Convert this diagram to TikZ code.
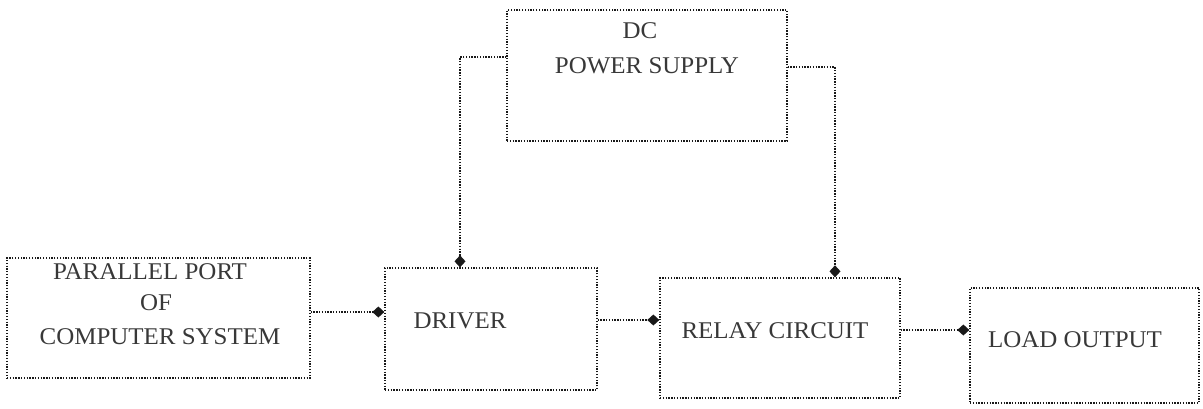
\documentclass[tikz,border=0pt]{standalone}
\usepackage{fontspec}
\setmainfont{Liberation Serif}[FakeStretch=1.04]
\usetikzlibrary{arrows.meta}
\begin{document}
\begin{tikzpicture}[x=1pt,y=-1pt,
  dotline/.style={draw=black!90,line width=1.3pt,dash pattern=on 1.3pt off 1.5pt},
  blockbox/.style={dotline,rectangle,inner sep=0pt},
  lbl/.style={inner sep=0pt,text=black!78,font=\fontsize{24}{26}\selectfont},
  arr/.style={dotline,-{Diamond[length=12pt,width=11pt]}}]
\useasboundingbox (0,0) rectangle (1203,409);
\node[blockbox,minimum width=303pt,minimum height=120pt] (pp) at (158.5,318) {};
\node[blockbox,minimum width=212pt,minimum height=122pt] (drv) at (491,329) {};
\node[blockbox,minimum width=240pt,minimum height=120pt] (rel) at (780,338) {};
\node[blockbox,minimum width=229pt,minimum height=115pt] (load) at (1084.5,345.5) {};
\node[blockbox,minimum width=280pt,minimum height=131pt] (dc) at (647,75.5) {};
\node[lbl] (t1) at (150,272) {PARALLEL PORT};
\node[lbl] (t2) at (156,303) {OF};
\node[lbl] (t3) at (160,337) {COMPUTER SYSTEM};
\node[lbl] (t4) at (460,321) {DRIVER};
\node[lbl] (t5) at (775,331) {RELAY CIRCUIT};
\node[lbl] (t6) at (1075,340) {LOAD OUTPUT};
\node[lbl] (t7) at (640,31) {DC};
\node[lbl] (t8) at (647,66) {POWER SUPPLY};
\draw[arr] (pp.east |- 0,312) -- (drv.west |- 0,312);
\draw[arr] (drv.east |- 0,320) -- (rel.west |- 0,320);
\draw[arr] (rel.east |- 0,330) -- (load.west |- 0,330);
\draw[arr] (dc.west |- 0,57) -| ([xshift=-31pt]drv.north);
\draw[arr] (dc.east |- 0,67) -| ([xshift=55pt]rel.north);
\end{tikzpicture}
\end{document}
